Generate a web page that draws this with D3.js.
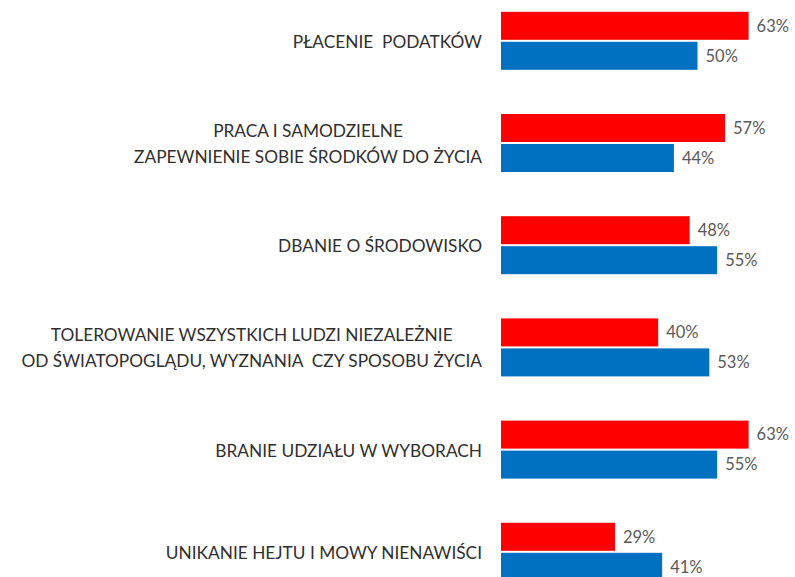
<!DOCTYPE html>
<html>
<head>
<meta charset="utf-8">
<script src="https://cdn.jsdelivr.net/npm/d3@7"></script>
<style>
  body { margin: 0; background: #fff; }
  svg text { font-family: Lato, "Open Sans", sans-serif; white-space: pre; }
</style>
</head>
<body>
<script>
//////////////// Datas ////////////////////
var categories = [
  ["PŁACENIE  PODATKÓW"],
  ["PRACA I SAMODZIELNE", "ZAPEWNIENIE SOBIE ŚRODKÓW DO ŻYCIA"],
  ["DBANIE O ŚRODOWISKO"],
  ["TOLEROWANIE WSZYSTKICH LUDZI NIEZALEŻNIE", "OD ŚWIATOPOGLĄDU, WYZNANIA  CZY SPOSOBU ŻYCIA"],
  ["BRANIE UDZIAŁU W WYBORACH"],
  ["UNIKANIE HEJTU I MOWY NIENAWIŚCI"]
];
var seriesNames = ["red", "blue"];
var redValues  = [63, 57, 48, 40, 63, 29];
var blueValues = [50, 44, 55, 53, 55, 41];
var colors = {red: "#ff0000", blue: "#0070c0"};

var width = 795, height = 577;

var svg = d3.select("body").append("svg")
  .attr("width", width)
  .attr("height", height);

//////////////// Scaling ///////////////
var keys = categories.map(function(d, i) { return i; });
var xScale = d3.scaleLinear().domain([0, 100]).range([501, 894]);
var yScale = d3.scaleBand().domain(keys).range([-10.3, 602.9]);
var bw = yScale.bandwidth();
var ySub = d3.scaleBand().domain(seriesNames)
  .range([bw / 2 - 29, bw / 2 + 29])
  .paddingInner(4 / 60);

var rows = keys.map(function(i) {
  return {i: i, lines: categories[i], values: [
    {key: "red", v: redValues[i]},
    {key: "blue", v: blueValues[i]}
  ]};
});

var groups = svg.selectAll("g.row")
  .data(rows)
  .enter().append("g")
  .attr("class", "row")
  .attr("transform", function(d) { return "translate(0," + yScale(d.i) + ")"; });

//////////////// Bars ///////////////
groups.selectAll("rect")
  .data(function(d) { return d.values; })
  .enter().append("rect")
  .attr("x", xScale(0))
  .attr("y", function(d) { return ySub(d.key); })
  .attr("width", function(d) { return xScale(d.v) - xScale(0); })
  .attr("height", ySub.bandwidth())
  .attr("fill", function(d) { return colors[d.key]; });

groups.selectAll("text.val")
  .data(function(d) { return d.values; })
  .enter().append("text")
  .attr("class", "val")
  .attr("x", function(d) { return xScale(d.v) + 8; })
  .attr("y", function(d) { return ySub(d.key) + ySub.bandwidth() / 2; })
  .attr("dy", "0.35em")
  .attr("fill", "#595959")
  .style("font-size", "16.5px")
  .text(function(d) { return d.v + "%"; });

//////////////// Labels ///////////////
var lineH = 26;
groups.each(function(d) {
  var g = d3.select(this);
  var lab = g.append("text")
    .attr("class", "cat")
    .attr("fill", "#2f2f2f")
    .style("font-size", "17.3px");
  var n = d.lines.length;
  d.lines.forEach(function(l, k) {
    lab.append("tspan")
      .attr("y", bw / 2 + 1 + (k - (n - 1) / 2) * lineH)
      .attr("dy", "0.35em")
      .text(l);
  });
  var maxW = 0;
  lab.selectAll("tspan").each(function() {
    maxW = Math.max(maxW, this.getComputedTextLength());
  });
  lab.attr("text-anchor", "middle");
  lab.selectAll("tspan").attr("x", 482 - maxW / 2);
});
</script>
</body>
</html>
